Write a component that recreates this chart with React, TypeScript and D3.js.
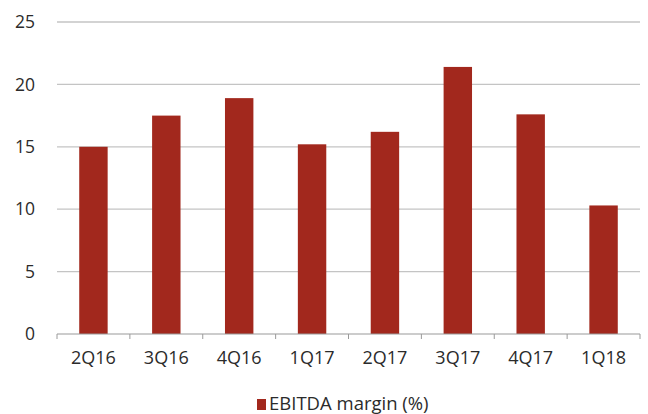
import React from "react";
import * as d3 from "d3";

const quarters = ["2Q16", "3Q16", "4Q16", "1Q17", "2Q17", "3Q17", "4Q17", "1Q18"];
const ebitdaMargin = [15.0, 17.5, 18.9, 15.2, 16.2, 21.4, 17.6, 10.3];
const yTicks = [0, 5, 10, 15, 20, 25];
const seriesName = "EBITDA margin (%)";

const W = 648;
const H = 414;
const margin = { top: 22, right: 8, bottom: 80, left: 57 };
const barColor = "#a2281d";
const font = "'Open Sans', sans-serif";

export default function App() {
  const x = d3
    .scaleBand<string>()
    .domain(quarters)
    .range([margin.left, W - margin.right])
    .paddingInner(0.61)
    .paddingOuter(0.305);
  const y = d3.scaleLinear().domain([0, 25]).range([334, margin.top]);
  const step = x.step();
  const x0 = margin.left;
  const x1 = W - margin.right;

  return (
    <svg
      width={W}
      height={H}
      style={{ position: "absolute", left: 0, top: 0, background: "#fff" }}
      fontFamily={font}
    >
      {yTicks.map((t) => (
        <g key={t}>
          {t > 0 && (
            <line x1={x0} x2={x1} y1={y(t)} y2={y(t)} stroke="#c4c4c4" strokeWidth={1.3} />
          )}
          <text x={35} y={y(t)} dy="0.35em" textAnchor="end" fontSize={17.5} fill="#2b2b2b">
            {t}
          </text>
        </g>
      ))}
      {quarters.map((q, i) => (
        <rect
          key={q}
          x={x(q)}
          y={y(ebitdaMargin[i])}
          width={x.bandwidth()}
          height={y(0) - y(ebitdaMargin[i])}
          fill={barColor}
        />
      ))}
      <line x1={x0} x2={x1} y1={y(0)} y2={y(0)} stroke="#9a9a9a" strokeWidth={1.2} />
      {d3.range(quarters.length + 1).map((i) => (
        <line
          key={i}
          x1={x0 + i * step}
          x2={x0 + i * step}
          y1={y(0)}
          y2={y(0) + 5}
          stroke="#9a9a9a"
          strokeWidth={1}
        />
      ))}
      {quarters.map((q) => (
        <text
          key={q}
          x={(x(q) ?? 0) + x.bandwidth() / 2}
          y={364}
          textAnchor="middle"
          fontSize={18}
          fill="#2b2b2b"
        >
          {q}
        </text>
      ))}
      <rect x={257} y={399} width={9} height={11} fill={barColor} />
      <text x={269} y={410} fontSize={18.5} fill="#2b2b2b">
        {seriesName}
      </text>
    </svg>
  );
}
